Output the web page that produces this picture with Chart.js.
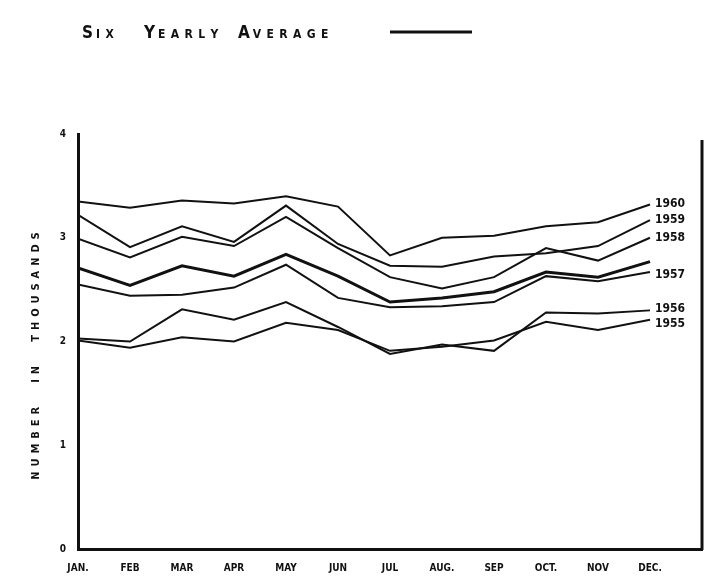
<!DOCTYPE html>
<html lang="en">
<head>
<meta charset="utf-8">
<script src="https://cdn.jsdelivr.net/npm/chart.js@4/dist/chart.umd.min.js"></script>
<title>Monthly numbers 1955-1960</title>
<style>
  html, body { margin: 0; padding: 0; background: #fff; }
  canvas { display: block; }
</style>
</head>
<body>
<canvas id="chart" width="704" height="577"></canvas>
<script>
// months along the bottom
const months = ['JAN.', 'FEB', 'MAR', 'APR', 'MAY', 'JUN', 'JUL', 'AUG.', 'SEP', 'OCT.', 'NOV', 'DEC.'];
const yTicks = [0, 1, 2, 3, 4];

// values (thousands)
const y1960 = [3.35, 3.29, 3.36, 3.33, 3.40, 3.30, 2.83, 3.00, 3.02, 3.11, 3.15, 3.32];
const y1959 = [3.22, 2.91, 3.11, 2.96, 3.31, 2.94, 2.73, 2.72, 2.82, 2.85, 2.92, 3.17];
const y1958 = [2.99, 2.81, 3.01, 2.92, 3.20, 2.90, 2.62, 2.51, 2.62, 2.90, 2.78, 3.00];
const y1957 = [2.55, 2.44, 2.45, 2.52, 2.74, 2.42, 2.33, 2.34, 2.38, 2.63, 2.58, 2.67];
const y1956 = [2.03, 2.00, 2.31, 2.21, 2.38, 2.14, 1.88, 1.97, 1.91, 2.28, 2.27, 2.30];
const y1955 = [2.01, 1.94, 2.04, 2.00, 2.18, 2.11, 1.91, 1.95, 2.01, 2.19, 2.11, 2.21];
const average = [2.71, 2.54, 2.73, 2.63, 2.84, 2.63, 2.38, 2.42, 2.48, 2.67, 2.62, 2.77];

const years = [
  { label: '1960', data: y1960 },
  { label: '1959', data: y1959 },
  { label: '1958', data: y1958 },
  { label: '1957', data: y1957 },
  { label: '1956', data: y1956 },
  { label: '1955', data: y1955 },
];

const ink = '#111';
const handFont = '"DejaVu Sans Condensed", "DejaVu Sans", sans-serif';

function pts(arr) {
  return arr.map((v, i) => ({ x: i, y: v }));
}

const datasets = years.map(y => ({
  label: y.label,
  data: pts(y.data),
  borderColor: ink,
  borderWidth: 2,
  pointRadius: 0,
  tension: 0,
}));
datasets.push({
  label: 'Six Yearly Average',
  data: pts(average),
  borderColor: ink,
  borderWidth: 3,
  pointRadius: 0,
  tension: 0,
});

// hand lettering: legend, axis title, year labels, right frame line
const extras = {
  id: 'extras',
  afterDraw(chart) {
    const ctx = chart.ctx;
    const a = chart.chartArea;
    const ys = chart.scales.y;
    const xs = chart.scales.x;
    ctx.save();
    ctx.fillStyle = ink;
    ctx.strokeStyle = ink;

    // right frame
    ctx.lineWidth = 3;
    ctx.beginPath();
    ctx.moveTo(a.right, a.top + 6);
    ctx.lineTo(a.right, a.bottom + 1);
    ctx.stroke();

    // legend "SIX YEARLY AVERAGE ____"
    ctx.textBaseline = 'alphabetic';
    ctx.textAlign = 'left';
    const words = [['S', 'IX', 82], ['Y', 'EARLY', 144], ['A', 'VERAGE', 238]];
    words.forEach(w => {
      ctx.font = 'bold 17px ' + handFont;
      ctx.fillText(w[0], w[2], 38);
      const wd = ctx.measureText(w[0]).width;
      ctx.font = 'bold 12px ' + handFont;
      ctx.fillText(w[1].split('').join('\u2002'), w[2] + wd + 3, 38);
    });
    ctx.lineWidth = 3;
    ctx.beginPath();
    ctx.moveTo(390, 32);
    ctx.lineTo(472, 32);
    ctx.stroke();

    // y axis title
    ctx.save();
    ctx.translate(36, 356);
    ctx.rotate(-Math.PI / 2);
    ctx.textAlign = 'center';
    ctx.textBaseline = 'middle';
    ctx.font = 'bold 11px ' + handFont;
    ctx.fillText('N\u2002U\u2002M\u2002B\u2002E\u2002R       I\u2002N       T\u2002H\u2002O\u2002U\u2002S\u2002A\u2002N\u2002D\u2002S', 0, 0);
    ctx.restore();

    // year labels at the end of each line
    ctx.font = 'bold 12px ' + handFont;
    ctx.textAlign = 'left';
    ctx.textBaseline = 'middle';
    const nudge = { '1960': -1, '1959': 0, '1958': 0, '1957': 3, '1956': -2, '1955': 4 };
    years.forEach(y => {
      const last = y.data.length - 1;
      const px = xs.getPixelForValue(last) + 5;
      const py = ys.getPixelForValue(y.data[last]) + nudge[y.label];
      ctx.fillText(y.label, px, py);
    });
    ctx.restore();
  }
};

new Chart(document.getElementById('chart'), {
  type: 'line',
  data: { datasets: datasets },
  options: {
    responsive: false,
    animation: false,
    layout: { padding: { top: 134, right: 2, bottom: 0, left: 0 } },
    plugins: {
      legend: { display: false },
      tooltip: { enabled: false },
    },
    scales: {
      x: {
        type: 'linear',
        min: 0,
        max: 12,
        afterFit: s => { s.height = 28; s.paddingRight = 0; s.paddingLeft = 0; },
        grid: { display: false, drawTicks: false },
        border: { display: true, color: ink, width: 3 },
        ticks: {
          stepSize: 1,
          padding: 13,
          color: ink,
          font: { family: handFont, size: 10, weight: 'bold' },
          maxRotation: 0,
          autoSkip: false,
          callback: v => months[v] || '',
        },
      },
      y: {
        min: 0,
        max: 4,
        afterFit: s => { s.width = 78; s.paddingTop = 0; s.paddingBottom = 0; },
        afterBuildTicks: s => { s.ticks = yTicks.map(v => ({ value: v })); },
        grid: { display: false, drawTicks: false },
        border: { display: true, color: ink, width: 3 },
        ticks: {
          padding: 12,
          color: ink,
          font: { family: handFont, size: 10, weight: 'bold' },
        },
      },
    },
  },
  plugins: [extras],
});
</script>
</body>
</html>
